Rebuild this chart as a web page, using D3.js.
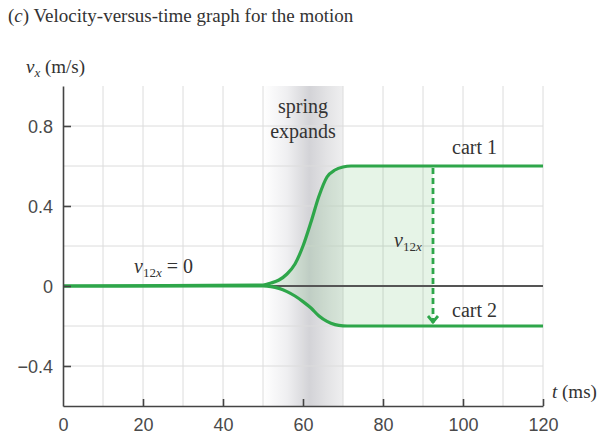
<!DOCTYPE html>
<html>
<head>
<meta charset="utf-8">
<script src="https://cdn.jsdelivr.net/npm/d3@7"></script>
<style>
  body { margin: 0; background: #fff; }
  .serif { font-family: "Liberation Serif", "DejaVu Serif", serif; fill: #333; }
</style>
</head>
<body>
<svg id="chart" width="605" height="437"></svg>
<script>
// time samples (ms) and velocities (m/s)
const tMs   = [0, 50, 52, 54, 56, 58, 60, 62, 64, 66, 68, 70, 72, 75, 92.5, 120];
const cart1 = [0, 0.005, 0.015, 0.03, 0.06, 0.11, 0.2, 0.32, 0.45, 0.545, 0.58, 0.595, 0.6, 0.6, 0.6, 0.6];
const cart2 = [0, 0, -0.003, -0.012, -0.028, -0.05, -0.078, -0.11, -0.15, -0.177, -0.193, -0.199, -0.2, -0.2, -0.2, -0.2];

const xTicks = [0, 20, 40, 60, 80, 100, 120];
const yTicks = [-0.4, 0, 0.4, 0.8];
const springStart = 50, springEnd = 70;
const arrowT = 92.5;

const svg = d3.select("#chart");
const x = d3.scaleLinear().domain([0, 120]).range([63, 543]);
const y = d3.scaleLinear().domain([-0.6, 1.0]).range([406, 86]);

// gray band for the spring
const grad = svg.append("defs").append("linearGradient").attr("id", "band");
[[0, "#ffffff"], [30, "#efeff1"], [58, "#d3d3d7"], [80, "#e3e3e5"], [100, "#efeff0"]].forEach(([o, c]) =>
  grad.append("stop").attr("offset", o + "%").attr("stop-color", c));

svg.append("rect")
  .attr("x", x(springStart)).attr("y", y(1.0))
  .attr("width", x(springEnd) - x(springStart))
  .attr("height", y(-0.6) - y(1.0))
  .attr("fill", "url(#band)");

// grid
const grid = svg.append("g").attr("stroke", "#dcdcdc").attr("stroke-width", 1);
grid.selectAll("line.v").data(d3.range(10, 121, 10)).join("line")
  .attr("x1", d => x(d)).attr("x2", d => x(d))
  .attr("y1", y(1.0)).attr("y2", y(-0.6));
grid.selectAll("line.h").data(d3.range(-4, 9, 2).map(d => d / 10)).join("line")
  .attr("x1", x(0)).attr("x2", x(120))
  .attr("y1", d => y(d)).attr("y2", d => y(d));

const pts = tMs.map((t, i) => ({t, a: cart1[i], b: cart2[i]}));

// shaded v12x area
const area = d3.area().x(d => x(d.t)).y0(d => y(d.b)).y1(d => y(d.a)).curve(d3.curveMonotoneX);
svg.append("path")
  .datum(pts.filter(d => d.t >= springStart && d.t <= arrowT))
  .attr("d", area)
  .attr("fill", "#3aa845").attr("fill-opacity", 0.13);

// zero line
svg.append("line")
  .attr("x1", x(0)).attr("x2", x(120)).attr("y1", y(0)).attr("y2", y(0))
  .attr("stroke", "#555").attr("stroke-width", 1.8);

// curves
const line = key => d3.line().x(d => x(d.t)).y(d => y(d[key])).curve(d3.curveMonotoneX);
["a", "b"].forEach(k => {
  svg.append("path").datum(pts).attr("d", line(k))
    .attr("fill", "none").attr("stroke", "#2ea64a").attr("stroke-width", 3.2);
});

// dashed arrow
svg.append("line")
  .attr("x1", x(arrowT)).attr("x2", x(arrowT))
  .attr("y1", y(0.6) + 2).attr("y2", y(-0.2) - 3)
  .attr("stroke", "#2ea64a").attr("stroke-width", 2.8).attr("stroke-dasharray", "6,4");
svg.append("path")
  .attr("d", `M${x(arrowT) - 5},${y(-0.2) - 10} L${x(arrowT)},${y(-0.2) - 4} L${x(arrowT) + 5},${y(-0.2) - 10}`)
  .attr("fill", "none").attr("stroke", "#2ea64a").attr("stroke-width", 2.8);

// axes
const xAxis = svg.append("g").attr("transform", `translate(0,${y(-0.6)})`)
  .call(d3.axisBottom(x).tickValues(xTicks).tickSize(-7).tickSizeOuter(0).tickPadding(12));
const yAxis = svg.append("g").attr("transform", `translate(${x(0)},0)`)
  .call(d3.axisLeft(y).tickValues(yTicks).tickSize(-8).tickSizeOuter(0).tickPadding(10)
    .tickFormat(d => d === 0 ? "0" : d3.format(".1f")(d).replace("-", "\u2212")));
[xAxis, yAxis].forEach(g => {
  g.attr("font-size", 18).attr("font-family", "'Liberation Sans', Arial, sans-serif");
  g.select(".domain").attr("stroke", "#444").attr("stroke-width", 1.6);
  g.selectAll(".tick line").attr("stroke", "#444").attr("stroke-width", 1.6);
  g.selectAll(".tick text").attr("fill", "#4a4a4a");
});
xAxis.selectAll(".tick").filter(d => d === 0).select("line").remove();
yAxis.selectAll(".tick text").attr("dy", "0.35em");

// texts
const title = svg.append("text").attr("class", "serif").attr("x", 8).attr("y", 22).attr("font-size", 19);
title.append("tspan").text("(");
title.append("tspan").attr("font-style", "italic").text("c");
title.append("tspan").text(") Velocity-versus-time graph for the motion");

const yl = svg.append("text").attr("class", "serif").attr("x", 26).attr("y", 73).attr("font-size", 19);
yl.append("tspan").attr("font-style", "italic").text("v");
yl.append("tspan").attr("font-style", "italic").attr("font-size", 13).attr("dy", 4).text("x");
yl.append("tspan").attr("dy", -4).text(" (m/s)");

const tl = svg.append("text").attr("class", "serif").attr("x", 552).attr("y", 398).attr("font-size", 19);
tl.append("tspan").attr("font-style", "italic").text("t");
tl.append("tspan").text(" (ms)");

svg.append("text").attr("class", "serif").attr("x", x(60)).attr("y", 113)
  .attr("font-size", 20).attr("text-anchor", "middle").text("spring");
svg.append("text").attr("class", "serif").attr("x", x(60)).attr("y", 138)
  .attr("font-size", 20).attr("text-anchor", "middle").text("expands");

svg.append("text").attr("class", "serif").attr("x", 452).attr("y", 154).attr("font-size", 20).text("cart 1");
svg.append("text").attr("class", "serif").attr("x", 452).attr("y", 317).attr("font-size", 20).text("cart 2");

const v1 = svg.append("text").attr("class", "serif").attr("x", 394).attr("y", 247).attr("font-size", 20);
v1.append("tspan").attr("font-style", "italic").text("v");
v1.append("tspan").attr("font-size", 13).attr("dy", 4).text("12");
v1.append("tspan").attr("font-size", 13).attr("font-style", "italic").text("x");

const v0 = svg.append("text").attr("class", "serif").attr("x", 134).attr("y", 273).attr("font-size", 20);
v0.append("tspan").attr("font-style", "italic").text("v");
v0.append("tspan").attr("font-size", 13).attr("dy", 4).text("12");
v0.append("tspan").attr("font-size", 13).attr("font-style", "italic").text("x");
v0.append("tspan").attr("dy", -4).text(" = 0");
</script>
</body>
</html>
